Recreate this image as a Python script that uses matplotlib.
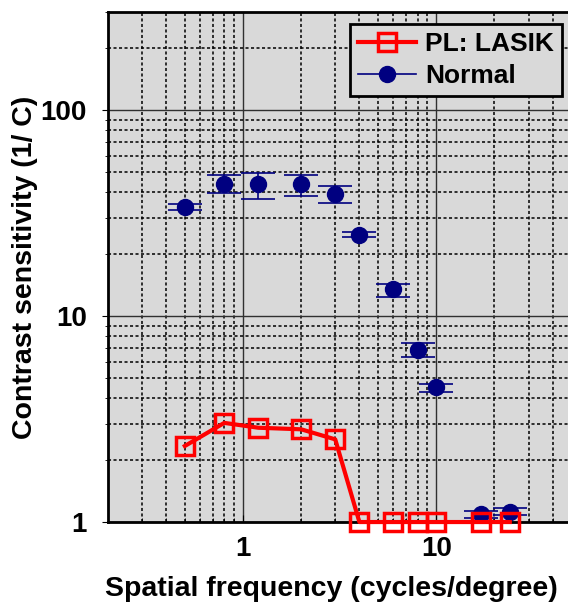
import matplotlib
matplotlib.use("Agg")
import matplotlib.pyplot as plt
import numpy as np
from matplotlib.lines import Line2D
from matplotlib.ticker import LogLocator, NullFormatter, FixedLocator, FixedFormatter

plt.rcParams['font.family'] = ['Liberation Sans', 'DejaVu Sans']
plt.rcParams['font.weight'] = 'bold'

# spatial frequency (cycles/degree)
freq = [0.5, 0.8, 1.2, 2, 3, 4, 6, 8, 10, 17, 24]
# PL: LASIK contrast sensitivity
lasik = [2.34, 3.03, 2.87, 2.82, 2.52, 1.0, 1.0, 1.0, 1.0, 1.0, 1.0]
# Normal contrast sensitivity with error bar ends
normal = [33.7, 43.9, 43.6, 43.6, 39.0, 24.8, 13.5, 6.84, 4.51, 1.09, 1.12]
normal_hi = [34.9, 48.7, 49.5, 48.7, 42.6, 25.6, 14.3, 7.37, 4.67, 1.13, 1.17]
normal_lo = [32.6, 39.5, 37.0, 38.3, 35.4, 24.1, 12.4, 6.31, 4.30, 1.05, 1.08]

xticks = [1, 10]
yticks = [1, 10, 100]

navy = '#000080'
red = '#ff0000'

fig = plt.figure(figsize=(5.68, 6.08), dpi=100)
ax = fig.add_axes([0.190, 0.1414, 0.816, 0.839])
ax.set_facecolor('#d9d9d9')
ax.set_xscale('log')
ax.set_yscale('log')
ax.set_xlim(0.2, 50)
ax.set_ylim(1, 300)

# grid
ax.grid(which='major', color='#303030', linestyle='-', linewidth=1.0)
ax.grid(which='minor', color='black', linestyle=(0, (2, 1.6)), linewidth=1.1)
ax.set_axisbelow(True)

fn = np.array(normal)
yerr = [fn - np.array(normal_lo), np.array(normal_hi) - fn]
ax.errorbar(freq, normal, yerr=yerr, fmt='o', color=navy, markersize=11.5,
            ecolor=navy, elinewidth=1.2, capsize=12, capthick=1.2, zorder=3,
            clip_on=False)
ax.plot(freq, lasik, color=red, linewidth=3, marker='s', markersize=13,
        markerfacecolor='none', markeredgecolor=red, markeredgewidth=2.5,
        zorder=4, clip_on=False)

ax.xaxis.set_major_locator(FixedLocator(xticks))
ax.xaxis.set_major_formatter(FixedFormatter([str(v) for v in xticks]))
ax.xaxis.set_minor_locator(LogLocator(base=10, subs=np.arange(2, 10)))
ax.xaxis.set_minor_formatter(NullFormatter())
ax.yaxis.set_major_locator(FixedLocator(yticks))
ax.yaxis.set_major_formatter(FixedFormatter([str(v) for v in yticks]))
ax.yaxis.set_minor_locator(LogLocator(base=10, subs=np.arange(2, 10)))
ax.yaxis.set_minor_formatter(NullFormatter())

ax.tick_params(axis='x', which='both', direction='in', labelsize=20, pad=10)
ax.tick_params(axis='x', which='major', length=5)
ax.tick_params(axis='x', which='minor', length=3)
ax.tick_params(axis='y', which='both', direction='out', labelsize=20, pad=11)
ax.tick_params(axis='y', which='major', length=4)
ax.tick_params(axis='y', which='minor', length=2.5)

for s in ax.spines.values():
    s.set_color('black')
    s.set_linewidth(2)

ax.set_xlabel('Spatial frequency (cycles/degree)', fontsize=20.5,
              fontweight='bold')
ax.xaxis.set_label_coords(0.482, -0.105)
ax.set_ylabel('Contrast sensitivity (1/ C)', fontsize=20.5,
              fontweight='bold')
ax.yaxis.set_label_coords(-0.151, 0.5)

handles = [
    Line2D([], [], color=red, linewidth=3, marker='s', markersize=13,
           markerfacecolor='none', markeredgecolor=red, markeredgewidth=2.5),
    Line2D([], [], color=navy, linewidth=1.2, marker='o', markersize=11.5),
]
leg = ax.legend(handles, ['PL: LASIK', 'Normal'], loc='upper right',
                bbox_to_anchor=(0.979, 0.976), fontsize=19, frameon=True,
                fancybox=False, edgecolor='black', facecolor='#d9d9d9',
                framealpha=1, handlelength=2.2, borderpad=0.3,
                labelspacing=0.3, handletextpad=0.35, borderaxespad=0)
leg.get_frame().set_linewidth(2)
for t in leg.get_texts():
    t.set_fontweight('bold')

fig.savefig('out.png', dpi=100)
